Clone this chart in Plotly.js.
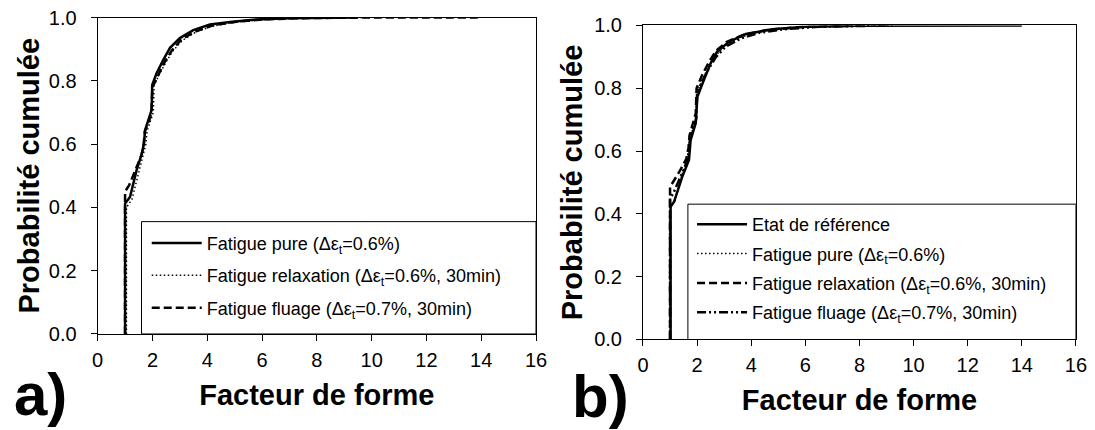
<!DOCTYPE html>
<html>
<head>
<meta charset="utf-8">
<script src="https://cdn.plot.ly/plotly-3.0.1.min.js"></script>
<style>html,body{margin:0;padding:0;background:#fff;}#chart{width:1095px;height:430px;}</style>
</head>
<body>
<div id="chart"></div>
<script>
// ---- Panel a data ----
const pureA_x = [1.0, 1.0, 1.18, 1.42, 1.61, 1.69, 1.73, 1.91, 1.97, 1.99, 2.15, 2.40, 2.64, 3.0, 3.49, 4.10, 4.83, 5.8, 7.0, 9.3];
const pureA_y = [0, 0.412, 0.433, 0.517, 0.570, 0.602, 0.644, 0.687, 0.708, 0.787, 0.824, 0.867, 0.904, 0.935, 0.960, 0.978, 0.986, 0.994, 0.998, 1.0];
const relaxA_x = [1.05, 1.05, 1.25, 1.5, 1.68, 1.76, 1.8, 1.97, 2.03, 2.06, 2.25, 2.5, 2.75, 3.1, 3.6, 4.2, 5.0, 6.0, 7.5, 10.0];
const relaxA_y = [0, 0.40, 0.425, 0.51, 0.565, 0.60, 0.64, 0.68, 0.70, 0.785, 0.82, 0.86, 0.895, 0.928, 0.955, 0.973, 0.985, 0.993, 0.998, 1.0];
const fluageA_x = [1.0, 1.0, 1.15, 1.4, 1.6, 1.68, 1.72, 1.9, 1.96, 2.0, 2.2, 2.45, 2.7, 3.05, 3.55, 4.2, 5.0, 6.0, 7.5, 10, 13.9];
const fluageA_y = [0, 0.45, 0.47, 0.52, 0.565, 0.60, 0.64, 0.68, 0.70, 0.78, 0.815, 0.86, 0.895, 0.93, 0.955, 0.975, 0.986, 0.994, 0.998, 1.0, 1.0];

// ---- Panel b data ----
const refB_x = [1.02, 1.02, 1.15, 1.45, 1.70, 1.76, 1.95, 2.01, 2.25, 2.50, 2.74, 3.18, 3.8, 4.78, 6.0, 8.0, 14.0];
const refB_y = [0, 0.423, 0.439, 0.518, 0.572, 0.635, 0.689, 0.773, 0.826, 0.880, 0.917, 0.948, 0.973, 0.988, 0.996, 0.999, 1.0];
const pureB_x = [1.0, 1.0, 1.18, 1.42, 1.61, 1.69, 1.73, 1.91, 1.97, 1.99, 2.15, 2.40, 2.64, 3.0, 3.49, 4.10, 4.83, 5.8, 7.0, 9.3];
const pureB_y = [0, 0.42, 0.44, 0.52, 0.57, 0.60, 0.64, 0.685, 0.705, 0.785, 0.82, 0.865, 0.90, 0.933, 0.958, 0.977, 0.986, 0.994, 0.998, 1.0];
const relaxB_x = [1.0, 1.0, 1.1, 1.35, 1.6, 1.68, 1.72, 1.88, 1.95, 1.98, 2.2, 2.45, 2.7, 3.1, 3.7, 4.6, 5.8, 8.0];
const relaxB_y = [0, 0.487, 0.50, 0.535, 0.575, 0.61, 0.65, 0.70, 0.72, 0.80, 0.845, 0.885, 0.92, 0.948, 0.97, 0.986, 0.995, 1.0];
const fluageB_x = [1.0, 1.0, 1.12, 1.4, 1.62, 1.7, 1.74, 1.92, 1.97, 2.0, 2.2, 2.45, 2.7, 3.05, 3.6, 4.3, 5.2, 6.5, 9.0];
const fluageB_y = [0, 0.45, 0.465, 0.52, 0.565, 0.60, 0.645, 0.685, 0.705, 0.785, 0.825, 0.865, 0.9, 0.932, 0.958, 0.977, 0.988, 0.996, 1.0];

// ---- Labels ----
const namesA = ["Fatigue pure (Δε<sub>t</sub>=0.6%)", "Fatigue relaxation (Δε<sub>t</sub>=0.6%, 30min)", "Fatigue fluage (Δε<sub>t</sub>=0.7%, 30min)"];
const namesB = ["Etat de référence", "Fatigue pure (Δε<sub>t</sub>=0.6%)", "Fatigue relaxation (Δε<sub>t</sub>=0.6%, 30min)", "Fatigue fluage (Δε<sub>t</sub>=0.7%, 30min)"];
const xTitle = "Facteur de forme";
const yTitle = "Probabilité cumulée";
const panelLabels = ["a)", "b)"];
const legendBoxA = {x0: 1.6, y1: 0.355};
const legendBoxB = {x0: 1.66, y1: 0.431};

const FONT = "Arial, 'Liberation Sans', sans-serif";

function tr(x, y, name, dash, width, xa, ya, leg, grp) {
  return {x: x, y: y, name: name, type: 'scatter', mode: 'lines',
    line: {color: '#000', width: width, dash: dash},
    xaxis: xa, yaxis: ya, legend: leg, legendgroup: grp, hoverinfo: 'skip'};
}

const data = [
  tr(pureA_x, pureA_y, namesA[0], 'solid', 2.5, 'x', 'y', 'legend', 'a1'),
  tr(relaxA_x, relaxA_y, namesA[1], '1.5px,2.5px', 1.5, 'x', 'y', 'legend', 'a2'),
  tr(fluageA_x, fluageA_y, namesA[2], '8px,4px', 2.5, 'x', 'y', 'legend', 'a3'),
  tr(refB_x, refB_y, namesB[0], 'solid', 2.5, 'x2', 'y2', 'legend2', 'b1'),
  tr(pureB_x, pureB_y, namesB[1], '1.5px,2.5px', 1.5, 'x2', 'y2', 'legend2', 'b2'),
  tr(relaxB_x, relaxB_y, namesB[2], '8px,4px', 2.5, 'x2', 'y2', 'legend2', 'b3'),
  tr(fluageB_x, fluageB_y, namesB[3], '9px,3px,2px,3px,2px,3px', 2.5, 'x2', 'y2', 'legend2', 'b4')
];

function xax(domain, anchor) {
  return {domain: domain, anchor: anchor, range: [0, 16], dtick: 2, tick0: 0,
    showline: true, linecolor: '#000', linewidth: 1, mirror: true,
    ticks: 'outside', ticklen: 6, tickcolor: '#000', showgrid: false, zeroline: false,
    ticklabelstandoff: 2,
    tickfont: {family: FONT, size: 20, color: '#000'},
    title: {text: xTitle, font: {family: FONT, size: 29, color: '#000', weight: 'bold'}, standoff: 14}};
}
function yax(domain, anchor, standoff) {
  return {domain: domain, anchor: anchor, range: [0, 1], dtick: 0.2, tick0: 0, tickformat: '.1f',
    showline: true, linecolor: '#000', linewidth: 1, mirror: true,
    ticks: 'outside', ticklen: 6, tickcolor: '#000', showgrid: false, zeroline: false,
    ticklabelstandoff: 10,
    tickfont: {family: FONT, size: 20, color: '#000'},
    title: {text: yTitle, font: {family: FONT, size: 29, color: '#000', weight: 'bold'}, standoff: standoff}};
}

const layout = {
  width: 1095, height: 430,
  margin: {l: 0, r: 0, t: 0, b: 0},
  paper_bgcolor: '#fff', plot_bgcolor: '#fff',
  font: {family: FONT, color: '#000'},
  xaxis: xax([0.0892, 0.4895], 'y'),
  yaxis: yax([0.2233, 0.9593], 'x', 0),
  xaxis2: xax([0.5872, 0.9826], 'y2'),
  yaxis2: yax([0.2105, 0.9407], 'x2', 3),
  showlegend: true,
  legend: {x: 0.1340, y: 0.4774, xanchor: 'left', yanchor: 'top', bgcolor: 'rgba(0,0,0,0)',
    borderwidth: 0, font: {family: FONT, size: 18, color: '#000'}, itemwidth: 50,
    tracegroupgap: 6, traceorder: 'grouped'},
  legend2: {x: 0.6320, y: 0.5210, xanchor: 'left', yanchor: 'top', bgcolor: 'rgba(0,0,0,0)',
    borderwidth: 0, font: {family: FONT, size: 18, color: '#000'}, itemwidth: 50,
    tracegroupgap: 3, traceorder: 'grouped'},
  shapes: [
    {type: 'rect', xref: 'x', yref: 'y', x0: legendBoxA.x0, x1: 16, y0: 0, y1: legendBoxA.y1,
      line: {color: '#000', width: 1}, fillcolor: 'rgba(0,0,0,0)', layer: 'above'},
    {type: 'rect', xref: 'x2', yref: 'y2', x0: legendBoxB.x0, x1: 16, y0: 0, y1: legendBoxB.y1,
      line: {color: '#000', width: 1}, fillcolor: 'rgba(0,0,0,0)', layer: 'above'}
  ],
  annotations: [
    {text: panelLabels[0], xref: 'paper', yref: 'paper', x: 0.037, y: 0.082, xanchor: 'center', yanchor: 'middle',
      showarrow: false, font: {family: FONT, size: 60, color: '#000', weight: 'bold'}},
    {text: panelLabels[1], xref: 'paper', yref: 'paper', x: 0.548, y: 0.077, xanchor: 'center', yanchor: 'middle',
      showarrow: false, font: {family: FONT, size: 60, color: '#000', weight: 'bold'}}
  ]
};

Plotly.newPlot('chart', data, layout, {staticPlot: true, displayModeBar: false});
</script>
</body>
</html>
